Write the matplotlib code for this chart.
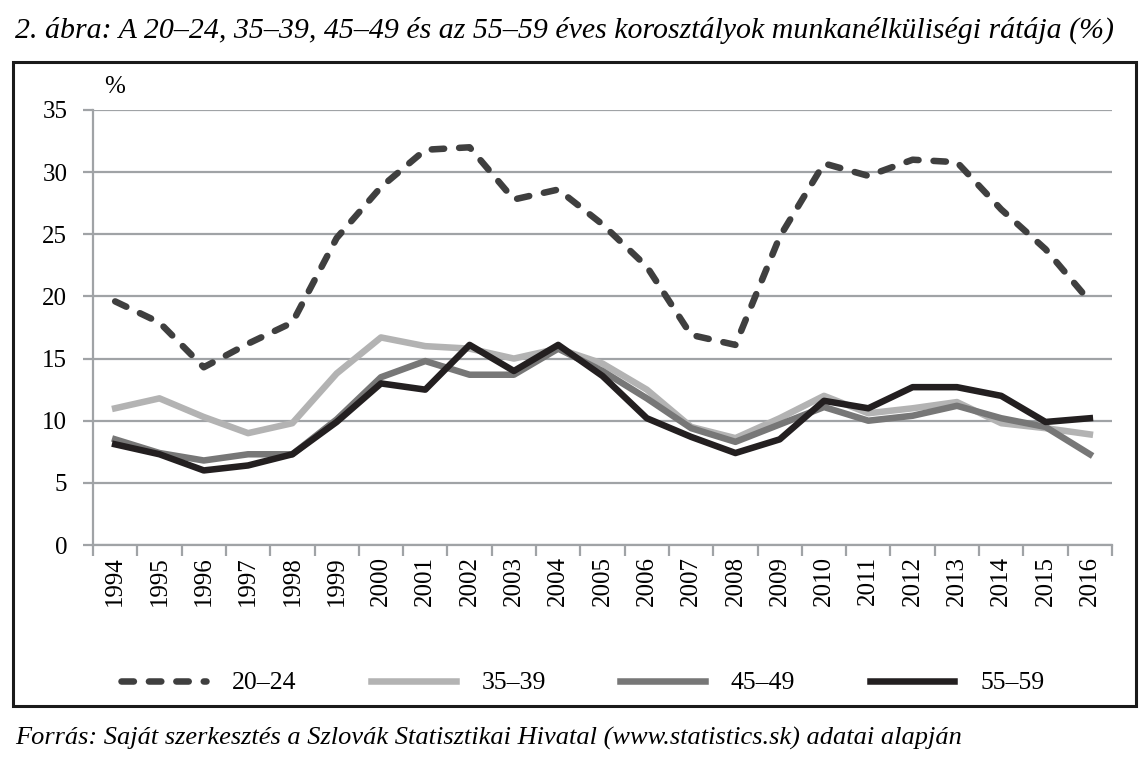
import matplotlib
matplotlib.use("Agg")
import matplotlib.pyplot as plt
from matplotlib.patches import Rectangle

plt.rcParams['font.family'] = ['Liberation Serif', 'DejaVu Serif']

years = ['1994', '1995', '1996', '1997', '1998', '1999', '2000', '2001', '2002', '2003', '2004', '2005',
         '2006', '2007', '2008', '2009', '2010', '2011', '2012', '2013', '2014', '2015', '2016']

r20_24 = [19.6, 17.9, 14.3, 16.2, 17.9, 24.7, 28.8, 31.8, 32.0, 27.8, 28.6, 25.8,
          22.4, 16.9, 16.1, 24.8, 30.7, 29.7, 31.0, 30.8, 27.0, 23.8, 19.6]
r35_39 = [11.0, 11.8, 10.3, 9.0, 9.8, 13.8, 16.7, 16.0, 15.8, 15.0, 15.8, 14.6,
          12.5, 9.5, 8.6, 10.2, 12.0, 10.6, 11.0, 11.5, 9.8, 9.4, 8.9]
r45_49 = [8.5, 7.4, 6.8, 7.3, 7.3, 10.1, 13.5, 14.8, 13.7, 13.7, 15.8, 14.0,
          11.8, 9.4, 8.3, 9.7, 11.1, 10.0, 10.4, 11.2, 10.2, 9.5, 7.3]
r55_59 = [8.1, 7.3, 6.0, 6.4, 7.3, 9.9, 13.0, 12.5, 16.1, 14.0, 16.1, 13.6,
          10.2, 8.7, 7.4, 8.5, 11.6, 11.0, 12.7, 12.7, 12.0, 9.9, 10.2]

fig = plt.figure(figsize=(11.45, 7.71), dpi=100)
ax = fig.add_axes([93 / 1145, 1 - 545 / 771, (1112 - 93) / 1145, (545 - 110) / 771])

x = list(range(len(years)))
ax.plot(x, r20_24, color='#3f3f3f', lw=4.7, linestyle=(0, (1.9, 2.3)),
        dash_capstyle='round', solid_joinstyle='round', label='20–24', zorder=3)
ax.plot(x, r35_39, color='#b3b3b3', lw=4.7, solid_joinstyle='round', label='35–39', zorder=3)
ax.plot(x, r45_49, color='#777777', lw=4.7, solid_joinstyle='round', label='45–49', zorder=3)
ax.plot(x, r55_59, color='#231f20', lw=4.7, solid_joinstyle='round', label='55–59', zorder=4)

ax.set_xlim(-0.5, len(years) - 0.5)
ax.set_ylim(0, 35)
ax.set_yticks(range(0, 36, 5))
ax.set_xticks(x)
ax.set_xticklabels(years, rotation=90, fontsize=18)
ax.set_xticks([i - 0.5 for i in range(len(years) + 1)], minor=True)
ax.tick_params(axis='x', which='major', length=0, pad=8)
ax.tick_params(axis='x', which='minor', length=8, width=1.6, color='#a0a3a6')
ax.tick_params(axis='y', length=7.5, width=1.6, color='#a0a3a6', labelsize=18, pad=11)
ax.grid(axis='y', color='#a0a3a6', lw=1.6)
ax.set_axisbelow(True)
for side in ['top', 'right']:
    ax.spines[side].set_visible(False)
for side in ['left', 'bottom']:
    ax.spines[side].set_color('#a0a3a6')
    ax.spines[side].set_linewidth(1.6)

ax.text(104 / 1145, 1 - 87 / 771, '%', transform=fig.transFigure, fontsize=18, ha='left', va='center')

fig.legend(loc='center', bbox_to_anchor=(0.509, 1 - 683 / 771), ncol=4, frameon=False,
           fontsize=18.5, handlelength=3.3, columnspacing=2.9, handletextpad=1.0)

fig.patches.append(Rectangle((13 / 1145, 1 - 706 / 771), (1136 - 13) / 1145, (706 - 62) / 771,
                             transform=fig.transFigure, fill=False, edgecolor='#1a1a1a', lw=2.2))

fig.text(15 / 1145, 1 - 30 / 771,
         '2. ábra: A 20–24, 35–39, 45–49 és az 55–59 éves korosztályok munkanélküliségi rátája (%)',
         fontsize=21.5, style='italic', ha='left', va='center')
fig.text(15 / 1145, 1 - 738 / 771,
         'Forrás: Saját szerkesztés a Szlovák Statisztikai Hivatal (www.statistics.sk) adatai alapján',
         fontsize=19, style='italic', ha='left', va='center')

fig.savefig('out.png', dpi=100)
